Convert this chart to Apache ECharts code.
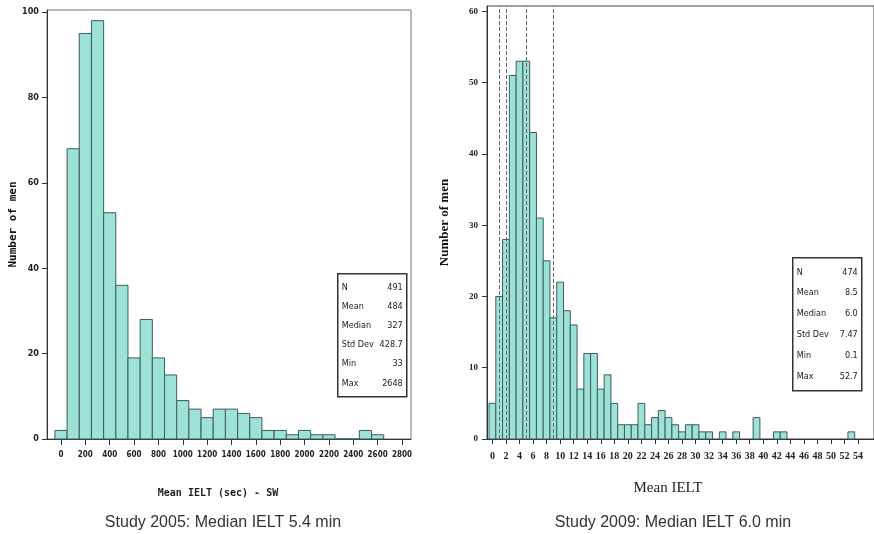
<!DOCTYPE html>
<html>
<head>
<meta charset="utf-8">
<script src="https://cdn.jsdelivr.net/npm/echarts@6/dist/echarts.min.js"></script>
<style>
  html, body { margin: 0; padding: 0; background: #fff; }
  #chart { width: 874px; height: 534px; }
</style>
</head>
<body>
<div id="chart"></div>
<script>
// Study 2005 histogram (bins of 100 sec, centred on the value)
const bins2005 = [0, 100, 200, 300, 400, 500, 600, 700, 800, 900, 1000, 1100, 1200, 1300,
  1400, 1500, 1600, 1700, 1800, 1900, 2000, 2100, 2200, 2300, 2400, 2500, 2600]
const counts2005 = [2, 68, 95, 98, 53, 36, 19, 28, 19, 15, 9, 7, 5, 7,
  7, 6, 5, 2, 2, 1, 2, 1, 1, 0, 0, 2, 1]
const ticks2005 = [0, 200, 400, 600, 800, 1000, 1200, 1400, 1600, 1800, 2000, 2200, 2400, 2600, 2800]
const yTicks2005 = [0, 20, 40, 60, 80, 100]
const stats2005Labels = ['N', 'Mean', 'Median', 'Std Dev', 'Min', 'Max']
const stats2005Values = ['491', '484', '327', '428.7', '33', '2648']

// Study 2009 histogram (bins of 1 min)
const bins2009 = [0, 1, 2, 3, 4, 5, 6, 7, 8, 9, 10, 11, 12, 13, 14, 15, 16, 17, 18, 19,
  20, 21, 22, 23, 24, 25, 26, 27, 28, 29, 30, 31, 32, 34, 36, 39, 42, 43, 53]
const counts2009 = [5, 20, 28, 51, 53, 53, 43, 31, 25, 17, 22, 18, 16, 7, 12, 12, 7, 9, 5, 2,
  2, 2, 5, 2, 3, 4, 3, 2, 1, 2, 2, 1, 1, 1, 1, 3, 1, 1, 1]
const ticks2009 = [0, 2, 4, 6, 8, 10, 12, 14, 16, 18, 20, 22, 24, 26, 28, 30, 32, 34, 36, 38,
  40, 42, 44, 46, 48, 50, 52, 54]
const yTicks2009 = [0, 10, 20, 30, 40, 50, 60]
const refLines2009 = [1, 2, 5, 9]
const stats2009Labels = ['N', 'Mean', 'Median', 'Std Dev', 'Min', 'Max']
const stats2009Values = ['474', '8.5', '6.0', '7.47', '0.1', '52.7']

const barFill = '#9ce2d9'
const barEdge = '#3e5c5a'
const narrow = '"DejaVu Sans Condensed", "Liberation Sans", sans-serif'

const chart = echarts.init(document.getElementById('chart'))

// histogram bar drawn through the axis scales
const histItem = (width) => (params, api) => {
  const x = api.value(0)
  const p0 = api.coord([x - width / 2, api.value(1)])
  const p1 = api.coord([x + width / 2, 0])
  return {
    type: 'rect',
    shape: { x: p0[0], y: p0[1], width: p1[0] - p0[0], height: p1[1] - p0[1] },
    style: { fill: barFill, stroke: barEdge, lineWidth: 1 }
  }
}

const statsBox = (left, top, w, h, labels, values, font) => {
  const children = [{
    type: 'rect',
    shape: { x: 0, y: 0, width: w, height: h },
    style: { fill: '#fff', stroke: '#333', lineWidth: 1.5 }
  }]
  const step = (h - 8) / labels.length
  labels.forEach((lab, i) => {
    const y = 4 + step * (i + 0.5)
    children.push({ type: 'text', style: { text: lab, x: 4, y, font, fill: '#222', textVerticalAlign: 'middle' } })
    children.push({ type: 'text', style: { text: values[i], x: w - 4, y, font, fill: '#222', textAlign: 'right', textVerticalAlign: 'middle' } })
  })
  return { type: 'group', left, top, children }
}

const option = {
  animation: false,
  grid: [
    { left: 47, top: 10, width: 364, height: 429, show: true, borderColor: '#777', borderWidth: 1 },
    { left: 487, top: 6, right: -2, height: 433, show: true, borderColor: '#444', borderWidth: 1 }
  ],
  xAxis: [
    {
      type: 'value', gridIndex: 0, min: -115, max: 2874,
      axisLine: { onZero: false, lineStyle: { color: '#333' } },
      axisTick: { customValues: ticks2005, length: 6, lineStyle: { color: '#333' } },
      axisLabel: { customValues: ticks2005, formatter: v => String(v), margin: 12, color: '#222', fontSize: 8, fontWeight: 'bold', fontFamily: narrow },
      splitLine: { show: false }
    },
    {
      type: 'value', gridIndex: 1, min: -0.8, max: 56.35,
      axisLine: { onZero: false, lineStyle: { color: '#333' } },
      axisTick: { customValues: ticks2009, length: 5, lineStyle: { color: '#333' } },
      axisLabel: { customValues: ticks2009, formatter: v => String(v), margin: 12, color: '#222', fontSize: 10, fontWeight: 'bold', fontFamily: '"Liberation Serif", serif' },
      splitLine: { show: false }
    }
  ],
  yAxis: [
    {
      type: 'value', gridIndex: 0, min: 0, max: 100.5,
      name: 'Number of men', nameLocation: 'middle', nameGap: 28, nameRotate: 90,
      nameTextStyle: { fontSize: 11, fontWeight: 'bold', fontFamily: '"DejaVu Sans Mono", monospace', color: '#111' },
      axisLine: { show: true, onZero: false, lineStyle: { color: '#333' } },
      axisTick: { customValues: yTicks2005, length: 5, lineStyle: { color: '#333' } },
      axisLabel: { customValues: yTicks2005, margin: 8, color: '#222', fontSize: 9, fontWeight: 'bold', fontFamily: narrow },
      splitLine: { show: false }
    },
    {
      type: 'value', gridIndex: 1, min: 0, max: 60.75,
      name: 'Number of men', nameLocation: 'middle', nameGap: 36, nameRotate: 90,
      nameTextStyle: { fontSize: 13, fontWeight: 'bold', fontFamily: '"Liberation Serif", serif', color: '#111' },
      axisLine: { show: true, onZero: false, lineStyle: { color: '#333' } },
      axisTick: { customValues: yTicks2009, length: 5, lineStyle: { color: '#333' } },
      axisLabel: { customValues: yTicks2009, margin: 9, color: '#222', fontSize: 9, fontWeight: 'bold', fontFamily: '"Liberation Serif", serif' },
      splitLine: { show: false }
    }
  ],
  series: [
    {
      type: 'custom', xAxisIndex: 0, yAxisIndex: 0,
      renderItem: histItem(100),
      data: bins2005.map((b, i) => [b, counts2005[i]])
    },
    {
      type: 'custom', xAxisIndex: 1, yAxisIndex: 1,
      renderItem: histItem(1),
      data: bins2009.map((b, i) => [b, counts2009[i]]),
      markLine: {
        silent: true, symbol: 'none', label: { show: false },
        lineStyle: { type: 'dashed', color: '#666', width: 1 },
        data: refLines2009.map(v => ({ xAxis: v }))
      }
    }
  ],
  graphic: [
    statsBox(337, 273, 69, 123, stats2005Labels, stats2005Values, '9px ' + narrow),
    statsBox(792, 257, 69, 133, stats2009Labels, stats2009Values, '9px ' + narrow),
    { type: 'text', style: { text: 'Mean IELT (sec) - SW', x: 218, y: 493, font: 'bold 10px "DejaVu Sans Mono", monospace', fill: '#222', textAlign: 'center', textVerticalAlign: 'middle' } },
    { type: 'text', style: { text: 'Mean IELT', x: 668, y: 488, font: '15px "Liberation Serif", serif', fill: '#222', textAlign: 'center', textVerticalAlign: 'middle' } },
    { type: 'text', style: { text: 'Study 2005: Median IELT 5.4 min', x: 223, y: 523, font: '16px "Liberation Sans", Arial, sans-serif', fill: '#333', textAlign: 'center', textVerticalAlign: 'middle' } },
    { type: 'text', style: { text: 'Study 2009: Median IELT 6.0 min', x: 673, y: 523, font: '16px "Liberation Sans", Arial, sans-serif', fill: '#333', textAlign: 'center', textVerticalAlign: 'middle' } }
  ]
}

chart.setOption(option)
</script>
</body>
</html>
